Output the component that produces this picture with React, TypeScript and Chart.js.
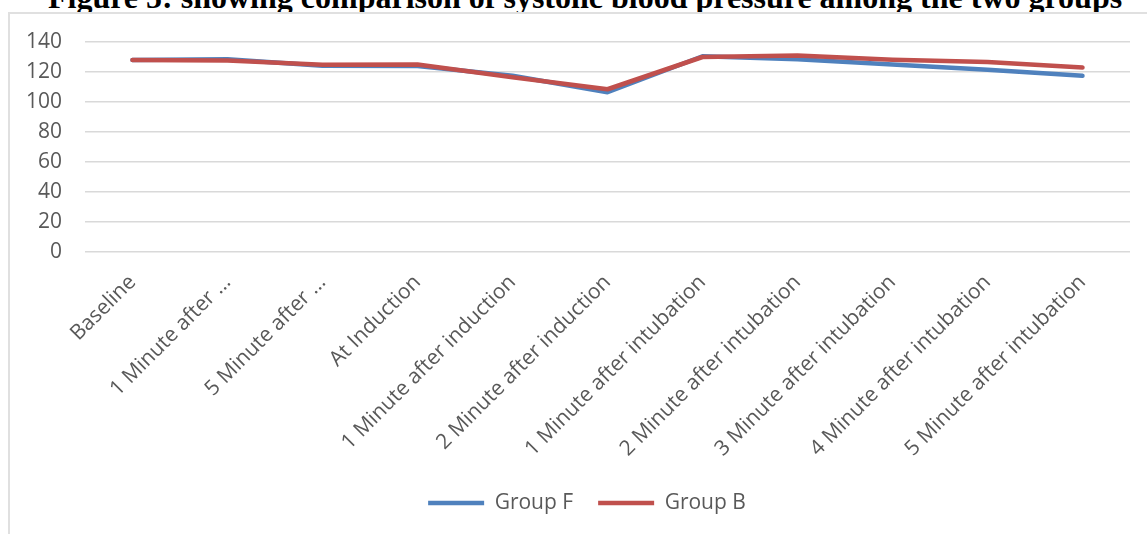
import React, { useEffect, useRef } from "react";
import { Chart, registerables } from "chart.js";

Chart.register(...registerables);

const titleText = "Figure 5: showing comparison of systolic blood pressure among the two groups";

const categories = [
  "Baseline",
  "1 Minute after ...",
  "5 Minute after ...",
  "At Induction",
  "1 Minute after induction",
  "2 Minute after induction",
  "1 Minute after intubation",
  "2 Minute after intubation",
  "3 Minute after intubation",
  "4 Minute after intubation",
  "5 Minute after intubation",
];

const groupF = [128, 128.5, 124.2, 124, 117.5, 106.5, 130.5, 128.5, 125, 121.5, 117.5];
const groupB = [128, 127.7, 124.8, 125, 116.5, 108.5, 130, 131, 128.2, 126.7, 123];

const seriesNames = ["Group F", "Group B"];
const yMin = 0;
const yMax = 140;
const yStep = 20;

const legendShift = {
  id: "legendShift",
  afterLayout(chart: any) {
    const lg = chart.legend;
    if (lg) {
      lg.left += 22;
      lg.right += 22;
    }
  },
};

export default function App() {
  const canvasRef = useRef<HTMLCanvasElement | null>(null);

  useEffect(() => {
    const canvas = canvasRef.current;
    if (!canvas) return;
    const font = { family: "'Open Sans', sans-serif", size: 21 };
    const chart = new Chart(canvas, {
      type: "line",
      data: {
        labels: categories,
        datasets: [
          {
            label: seriesNames[0],
            data: groupF,
            borderColor: "#4F81BD",
            backgroundColor: "#4F81BD",
            borderWidth: 4.5,
            borderCapStyle: "round",
            borderJoinStyle: "round",
            pointRadius: 0,
            tension: 0,
            order: 1,
          },
          {
            label: seriesNames[1],
            data: groupB,
            borderColor: "#C0504D",
            backgroundColor: "#C0504D",
            borderWidth: 4.5,
            borderCapStyle: "round",
            borderJoinStyle: "round",
            pointRadius: 0,
            tension: 0,
            order: 0,
          },
        ],
      },
      options: {
        animation: false,
        responsive: false,
        maintainAspectRatio: false,
        layout: { padding: { left: 0, right: 17, top: 42, bottom: 10.5 } },
        plugins: {
          title: { display: false },
          tooltip: { enabled: false },
          legend: {
            position: "bottom",
            labels: {
              usePointStyle: true,
              pointStyle: "line",
              pointStyleWidth: 56,
              padding: 25,
              color: "#595959",
              font,
              sort: (a: any, b: any) => a.datasetIndex - b.datasetIndex,
            },
          },
        },
        scales: {
          x: {
            offset: true,
            grid: { display: false, drawTicks: false },
            border: { display: false },
            ticks: {
              autoSkip: false,
              minRotation: 45,
              maxRotation: 45,
              padding: 18,
              color: "#595959",
              font,
            },
            afterFit: (scale: any) => {
              scale.height = 215.5;
            },
          },
          y: {
            min: yMin,
            max: yMax,
            grid: { color: "#d9d9d9", lineWidth: 1.5, drawTicks: false },
            border: { display: false },
            ticks: {
              stepSize: yStep,
              padding: 23,
              color: "#595959",
              font,
            },
            afterFit: (scale: any) => {
              scale.width = 85;
            },
          },
        },
      },
      plugins: [legendShift],
    });
    return () => chart.destroy();
  }, []);

  return (
    <div
      style={{
        position: "absolute",
        left: 0,
        top: 0,
        width: 1147,
        height: 534,
        overflow: "hidden",
        background: "#ffffff",
      }}
    >
      <div
        style={{
          position: "absolute",
          left: 48,
          top: -19,
          whiteSpace: "nowrap",
          fontFamily: "'Liberation Serif', 'Times New Roman', serif",
          fontWeight: "bold",
          fontSize: 32,
          lineHeight: 1,
          color: "#000",
        }}
      >
        {titleText}
      </div>
      <div
        style={{
          position: "absolute",
          left: 8,
          top: 12,
          width: 1300,
          height: 700,
          border: "2px solid #e0e0e0",
          background: "#ffffff",
        }}
      />
      <canvas
        ref={canvasRef}
        width={1147}
        height={534}
        style={{ position: "absolute", left: 0, top: 0, width: 1147, height: 534 }}
      />
    </div>
  );
}
